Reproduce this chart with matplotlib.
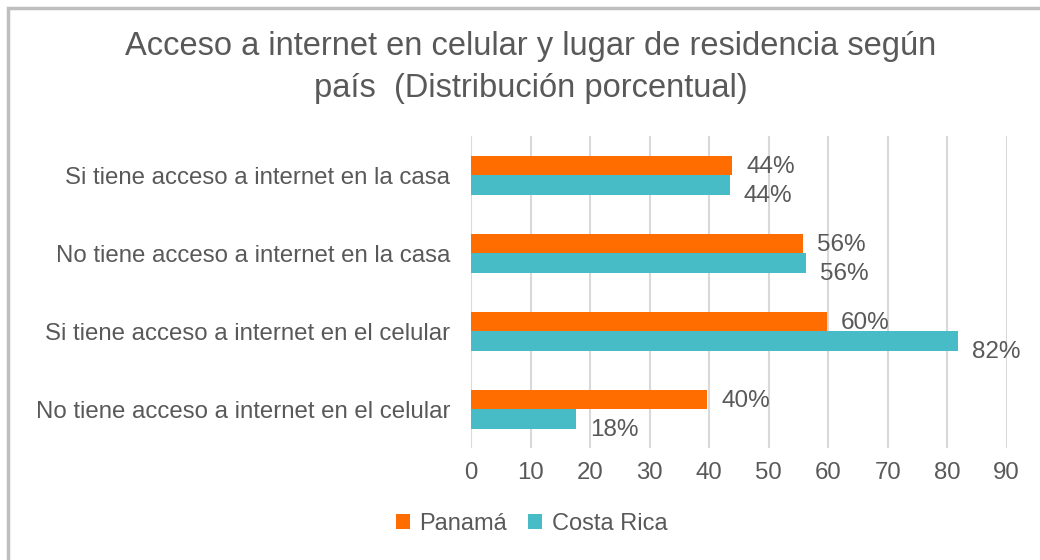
import matplotlib.pyplot as plt
import matplotlib.patches as patches
import numpy as np

plt.rcParams['font.family'] = ['Liberation Sans', 'DejaVu Sans']

categorias = ["Si tiene acceso a internet en la casa",
              "No tiene acceso a internet en la casa",
              "Si tiene acceso a internet en el celular",
              "No tiene acceso a internet en el celular"]
panama = [43.9, 55.8, 59.8, 39.7]
costa_rica = [43.5, 56.3, 81.8, 17.7]
etiq_panama = ["44%", "56%", "60%", "40%"]
etiq_cr = ["44%", "56%", "82%", "18%"]

col_pa = "#FF6D00"
col_cr = "#47BCC6"
gris = "#595959"

fig = plt.figure(figsize=(10.4, 5.6), dpi=100)
ax = fig.add_axes([0.453, 1 - 448/560, 0.968 - 0.453, (448 - 136)/560])

y = np.arange(len(categorias))
h = 0.25
ax.barh(y - h/2, panama, height=h, color=col_pa, label="Panamá", zorder=3)
ax.barh(y + h/2, costa_rica, height=h, color=col_cr, label="Costa Rica", zorder=3)

for yi, v, t in zip(y, panama, etiq_panama):
    ax.annotate(t, (v, yi - h/2), xytext=(10, -1), textcoords="offset points",
                va="center", ha="left", fontsize=17.5, color=gris)
for yi, v, t in zip(y, costa_rica, etiq_cr):
    ax.annotate(t, (v, yi + h/2), xytext=(10, -8), textcoords="offset points",
                va="center", ha="left", fontsize=17.5, color=gris)

ax.set_ylim(3.5, -0.5)
ax.set_xlim(0, 90)
ax.set_xticks(range(0, 91, 10))
ax.set_yticks(y)
ax.set_yticklabels(categorias)
ax.tick_params(axis="both", length=0, labelsize=17.3, labelcolor=gris)
ax.tick_params(axis="x", pad=10)
ax.tick_params(axis="y", pad=15)
ax.grid(axis="x", color="#D9D9D9", linewidth=1.5, zorder=0)
for s in ax.spines.values():
    s.set_visible(False)

fig.text(0.51, 1 - 47/560, "Acceso a internet en celular y lugar de residencia según",
         ha="center", va="center", fontsize=23.5, color=gris)
fig.text(0.51, 1 - 88/560, "país  (Distribución porcentual)",
         ha="center", va="center", fontsize=23.5, color=gris)

fig.legend(loc="center", bbox_to_anchor=(0.511, 1 - 524/560), ncol=2, frameon=False,
           fontsize=17, labelcolor=gris, handlelength=0.6, handleheight=0.6,
           handletextpad=0.4, columnspacing=0.9)

# marco del grafico
marco = patches.Rectangle((8/1040, -0.05), 1.1, 1 - 8/560 + 0.05, transform=fig.transFigure,
                          fill=False, edgecolor="#BFBFBF", linewidth=2.5)
fig.patches.append(marco)

plt.savefig("out.png", dpi=100)
